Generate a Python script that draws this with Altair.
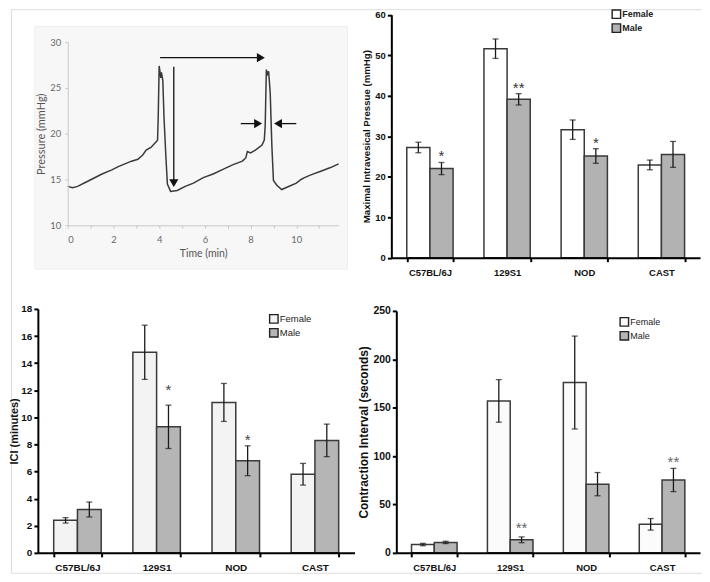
import altair as alt
import pandas as pd

FONT = "Liberation Sans"
TRACE_FONT = "Lato"
W, H = 694, 566  # whole drawing area; every panel is placed inside it by its scale ranges

# ---------------- Panel A: cystometric pressure trace ----------------
trace_time = [0.0, 0.21, 0.43, 0.79, 1.07, 1.5, 1.93, 2.21, 2.5, 2.79, 3.07, 3.29, 3.43,
              3.64, 3.9, 3.93, 3.96, 4.0, 4.04, 4.07, 4.1, 4.16, 4.21, 4.29, 4.36, 4.5,
              4.79, 5.14, 5.5, 5.93, 6.36, 6.79, 7.21, 7.64, 7.79, 7.86, 8.0, 8.21, 8.5,
              8.6, 8.64, 8.69, 8.74, 8.79, 8.86, 8.93, 9.0, 9.14, 9.36, 9.64, 10.0, 10.21,
              10.36, 10.64, 11.07, 11.5, 11.85]
trace_pressure = [14.25, 14.1, 14.25, 14.7, 15.05, 15.6, 16.05, 16.4, 16.7, 17.0, 17.2, 17.7,
                  18.2, 18.5, 19.2, 19.3, 21.9, 27.4, 26.7, 26.1, 26.7, 25.8, 21.9, 17.7,
                  14.5, 13.7, 13.8, 14.25, 14.6, 15.2, 15.6, 16.1, 16.6, 17.0, 17.35, 18.05,
                  17.9, 18.2, 18.75, 19.3, 20.9, 27.0, 26.5, 26.8, 24.4, 18.75, 14.9, 14.4,
                  13.9, 14.2, 14.6, 15.0, 15.2, 15.5, 15.9, 16.3, 16.7]

arrow_x = [4.04, 4.64, 7.57, 10.0]
arrow_x2 = [8.40, 4.64, 8.25, 9.25]
arrow_y = [28.3, 27.3, 21.1, 21.1]
arrow_y2 = [28.3, 14.8, 21.1, 21.1]
head_x = [8.45, 4.64, 8.33, 9.2]
head_y = [28.3, 14.6, 21.1, 21.1]
head_shape = ["triangle-right", "triangle-down", "triangle-right", "triangle-left"]

time_ticks = list(range(0, 12))
pressure_ticks = [10, 15, 20, 25, 30]

# ---------------- Bar panels ----------------
strains = ["C57BL/6J", "129S1", "NOD", "CAST"]
sexes = ["Female", "Male"]

mip_female = [27.2, 51.6, 31.6, 22.9]
mip_female_sem = [1.3, 2.4, 2.4, 1.2]
mip_male = [22.0, 39.1, 25.1, 25.5]
mip_male_sem = [1.5, 1.4, 1.8, 3.2]
mip_marks = ["*", "**", "*", ""]
mip_mark_y = [26.1, 42.9, 29.3, 0]

ici_female = [2.4, 14.8, 11.1, 5.8]
ici_female_sem = [0.2, 2.0, 1.4, 0.8]
ici_male = [3.2, 9.3, 6.8, 8.3]
ici_male_sem = [0.55, 1.6, 1.1, 1.2]
ici_marks = ["", "*", "*", ""]
ici_mark_y = [0, 12.3, 8.6, 0]

ci_female = [8.6, 157.0, 176.0, 29.5]
ci_female_sem = [1.2, 22.0, 48.0, 6.0]
ci_male = [10.8, 13.5, 71.0, 75.3]
ci_male_sem = [1.2, 3.0, 12.0, 12.0]
ci_marks = ["", "**", "", "**"]
ci_mark_y = [0, 30.0, 0, 98.0]

ONE = pd.DataFrame({"a": [0]})


def trace_panel(x0, x1, y0, y1, box):
    df = pd.DataFrame({"t": trace_time, "p": trace_pressure})
    arr = pd.DataFrame({"x": arrow_x, "x2": arrow_x2, "y": arrow_y, "y2": arrow_y2})
    heads = pd.DataFrame({"x": head_x, "y": head_y, "shape": head_shape})
    xs = alt.Scale(domain=[0, 11.85], nice=False, range=[x0, x1])
    ys = alt.Scale(domain=[10, 30], nice=False, range=[y1, y0])
    xaxis = alt.Axis(title="Time (min)", orient="bottom", offset=y1 - H, values=time_ticks,
                     labelExpr="datum.value % 2 == 0 ? datum.label : ''",
                     grid=False, domainColor="#c8c8c8", tickColor="#c8c8c8", tickSize=3,
                     labelFont=TRACE_FONT, labelFontSize=9.5, labelColor="#6a6a6a",
                     labelPadding=6, titleFont=TRACE_FONT, titleFontSize=10.5,
                     titleFontWeight="normal", titleColor="#555555", titlePadding=5, zindex=2)
    yaxis = alt.Axis(title="Pressure (mmHg)", orient="left", offset=-x0, values=pressure_ticks,
                     grid=False, domainColor="#c8c8c8", tickColor="#c8c8c8", tickSize=3,
                     labelFont=TRACE_FONT, labelFontSize=9.5, labelColor="#6a6a6a",
                     labelPadding=4, titleFont=TRACE_FONT, titleFontSize=11,
                     titleFontWeight="normal", titleColor="#555555", titlePadding=3, zindex=2)
    bg = alt.Chart(ONE).mark_rect(fill="#f7f7f7", stroke="#eeeeee").encode(
        x=alt.value(box[0]), x2=alt.value(box[1]), y=alt.value(box[2]), y2=alt.value(box[3]))
    line = alt.Chart(df).mark_line(color="#3a3a3a", strokeWidth=1.5).encode(
        x=alt.X("t:Q", scale=xs, axis=xaxis), y=alt.Y("p:Q", scale=ys, axis=yaxis))
    rules = alt.Chart(arr).mark_rule(color="#111111", strokeWidth=1.3).encode(
        x=alt.X("x:Q", scale=xs, axis=xaxis), x2="x2:Q",
        y=alt.Y("y:Q", scale=ys, axis=yaxis), y2="y2:Q")
    tips = alt.Chart(heads).mark_point(filled=True, color="#111111", opacity=1, size=85).encode(
        x=alt.X("x:Q", scale=xs, axis=xaxis), y=alt.Y("y:Q", scale=ys, axis=yaxis),
        shape=alt.Shape("shape:N", scale=None))
    return alt.layer(bg, line, rules, tips)


def bar_panel(fem, fem_sem, male, male_sem, marks, mark_y, ymax, ystep, ytitle,
              female_fill, male_fill, x0, x1, y0, y1, leg_x, leg_y, xlab_size, ylab_size,
              title_size, title_pad, leg_size, leg_weight, star_color):
    rows = []
    for i, s in enumerate(strains):
        rows.append(dict(strain=s, sex="Female", value=fem[i],
                         lo=fem[i] - fem_sem[i], hi=fem[i] + fem_sem[i]))
        rows.append(dict(strain=s, sex="Male", value=male[i],
                         lo=male[i] - male_sem[i], hi=male[i] + male_sem[i]))
    df = pd.DataFrame(rows)
    sdf = pd.DataFrame({"strain": strains, "sex": ["Male"] * 4, "mark": marks, "y": mark_y})
    sdf = sdf[sdf["mark"] != ""]

    xaxis = alt.Axis(title=None, orient="bottom", offset=y1 - H, labelAngle=0,
                     tickBand="extent", domainColor="#000000",
                     domainWidth=2, tickColor="#000000", tickWidth=2, tickSize=4,
                     labelFont=FONT, labelFontWeight="bold", labelFontSize=xlab_size,
                     labelColor="#111111", labelPadding=6, zindex=2)
    x = alt.X("strain:N", sort=strains,
              scale=alt.Scale(paddingInner=0.4, paddingOuter=0.2, range=[x0, x1]), axis=xaxis)
    xo = alt.XOffset("sex:N", sort=sexes)
    yaxis = alt.Axis(title=ytitle, orient="left", offset=-x0,
                     values=list(range(0, ymax + 1, ystep)), grid=False,
                     domainColor="#000000", domainWidth=2, tickColor="#000000", tickWidth=2,
                     tickSize=4, labelFont=FONT, labelFontWeight="bold",
                     labelFontSize=ylab_size, labelColor="#111111", labelPadding=2,
                     titleFont=FONT, titleFontWeight="bold", titleFontSize=title_size,
                     titleColor="#111111", titlePadding=title_pad, zindex=2)
    ys = alt.Scale(domain=[0, ymax], nice=False, range=[y1, y0])

    bars = alt.Chart(df).mark_bar(stroke="#3a3a3a", strokeWidth=1.5).encode(
        x=x, xOffset=xo, y=alt.Y("value:Q", scale=ys, axis=yaxis),
        color=alt.Color("sex:N", scale=alt.Scale(domain=sexes, range=[female_fill, male_fill]),
                        legend=alt.Legend(title=None, orient="none", legendX=leg_x,
                                          legendY=leg_y, symbolType="square", symbolSize=72,
                                          symbolStrokeColor="#222222", symbolStrokeWidth=1.4,
                                          labelFont=FONT, labelFontSize=leg_size,
                                          labelFontWeight=leg_weight, labelColor="#222222",
                                          labelOffset=1, rowPadding=-2, padding=0)))
    err = alt.Chart(df).mark_rule(color="#1a1a1a", strokeWidth=1.3).encode(
        x=x, xOffset=xo, y=alt.Y("lo:Q", scale=ys, axis=yaxis), y2="hi:Q")
    cap_lo = alt.Chart(df).mark_tick(color="#1a1a1a", thickness=1.3, size=6).encode(
        x=x, xOffset=xo, y=alt.Y("lo:Q", scale=ys, axis=yaxis))
    cap_hi = alt.Chart(df).mark_tick(color="#1a1a1a", thickness=1.3, size=6).encode(
        x=x, xOffset=xo, y=alt.Y("hi:Q", scale=ys, axis=yaxis))
    stars = alt.Chart(sdf).mark_text(font=FONT, fontSize=15, color=star_color,
                                     baseline="middle", dy=4).encode(
        x=x, xOffset=xo, y=alt.Y("y:Q", scale=ys, axis=yaxis), text="mark:N")
    return alt.layer(bars, err, cap_lo, cap_hi, stars)


panel_a = trace_panel(57, 329, 33, 217, (24, 338, 17.5, 261))
panel_b = bar_panel(mip_female, mip_female_sem, mip_male, mip_male_sem, mip_marks, mip_mark_y,
                    60, 10, "Maximal Intravesical Pressue (mmHg)", "#ffffff", "#b2b2b2",
                    382, 692, 5.5, 249.5, 603, 0, 9.5, 9.5, 9.7, 3, 9, "bold", "#333333")
panel_c = bar_panel(ici_female, ici_female_sem, ici_male, ici_male_sem, ici_marks, ici_mark_y,
                    18, 2, "ICI (minutes)", "#f3f3f3", "#b5b5b5",
                    27, 345, 301, 546, 259, 306, 10, 10, 11, 1, 9.5, "normal", "#444444")
panel_d = bar_panel(ci_female, ci_female_sem, ci_male, ci_male_sem, ci_marks, ci_mark_y,
                    250, 50, "Contraction Interval (seconds)", "#fbfbfb", "#b5b5b5",
                    387, 692, 303, 546, 611, 309, 9.5, 10.5, 12, 2, 9, "normal", "#666666")

chart = alt.layer(panel_a, panel_b, panel_c, panel_d).resolve_scale(
    x="independent", y="independent", color="independent", xOffset="independent"
).resolve_axis(x="independent", y="independent").resolve_legend(color="independent").properties(
    width=W, height=H, padding=0, background="#ffffff"
).configure_view(stroke=None).configure(font=FONT)

chart.save("out.html", embed_options={"renderer": "svg", "actions": False})
